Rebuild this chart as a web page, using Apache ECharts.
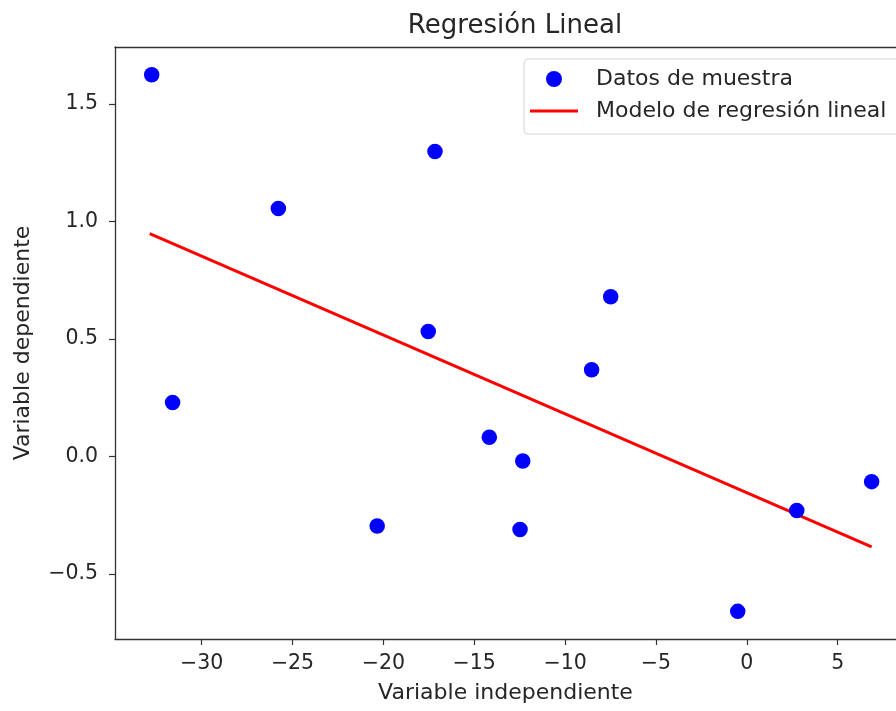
<!DOCTYPE html>
<html>
<head>
<meta charset="utf-8">
<script src="https://cdn.jsdelivr.net/npm/echarts@6/dist/echarts.min.js"></script>
<style>html,body{margin:0;padding:0;background:#fff;}#c{width:896px;height:711px;}</style>
</head>
<body>
<div id="c"></div>
<script>
const sampleX = [-32.75, -31.60, -25.78, -20.34, -17.53, -17.16, -14.17, -12.48, -12.33, -8.54, -7.49, -0.50, 2.75, 6.87];
const sampleY = [1.623, 0.229, 1.054, -0.297, 0.531, 1.297, 0.081, -0.312, -0.020, 0.368, 0.679, -0.660, -0.231, -0.108];
const lineX = [-32.86, 6.87];
const lineY = [0.947, -0.386];
const xTicks = [-30, -25, -20, -15, -10, -5, 0, 5];
const yTicks = [-0.5, 0.0, 0.5, 1.0, 1.5];
const seriesNames = ['Datos de muestra', 'Modelo de regresión lineal'];
const titleText = 'Regresión Lineal';
const xName = 'Variable independiente';
const yName = 'Variable dependiente';

const font = 'DejaVu Sans';
const ink = '#262626';
const spine = '#333';
const chart = echarts.init(document.getElementById('c'));
const minus = v => (v < 0 ? '\u2212' : '');
const xMin = -34.77, xMax = 8.21, yMin = -0.7776, yMax = 1.7415;
chart.setOption({
  animation: false,
  backgroundColor: '#fff',
  textStyle: {fontFamily: font},
  title: {text: titleText, left: 510, top: 8, textAlign: 'center',
    textStyle: {fontFamily: font, fontSize: 26, fontWeight: 'normal', color: ink}},
  grid: {left: 115, top: 47, bottom: 72, right: 0, containLabel: false},
  legend: {
    orient: 'vertical', left: 524, top: 59, padding: [9, 16, 12, 6],
    itemWidth: 48, itemHeight: 16, itemGap: 10,
    backgroundColor: '#fff', borderColor: '#d5d5d5', borderWidth: 1, borderRadius: 4,
    textStyle: {fontFamily: font, fontSize: 22, lineHeight: 22, color: ink, padding: [0, 0, 0, 13]},
    data: [
      {name: seriesNames[0], icon: 'circle'},
      {name: seriesNames[1], icon: 'path://M0,0L48,0L48,3L0,3Z'}
    ]
  },
  xAxis: [{
    type: 'value', min: xMin, max: xMax, position: 'bottom',
    name: xName, nameLocation: 'middle', nameGap: 43,
    nameTextStyle: {fontFamily: font, fontSize: 22, color: ink},
    splitLine: {show: false},
    axisLine: {show: true, onZero: false, lineStyle: {color: spine, width: 1.3}},
    axisTick: {show: true, length: 6, customValues: xTicks, lineStyle: {color: spine, width: 1.2}},
    axisLabel: {customValues: xTicks, fontFamily: font, fontSize: 20.5, color: ink, margin: 14,
      formatter: v => minus(v) + Math.abs(v)}
  }, {
    type: 'value', min: xMin, max: xMax, position: 'top',
    splitLine: {show: false}, axisTick: {show: false}, axisLabel: {show: false},
    axisLine: {show: true, onZero: false, lineStyle: {color: spine, width: 1.3}}
  }],
  yAxis: [{
    type: 'value', min: yMin, max: yMax, position: 'left',
    name: yName, nameLocation: 'middle', nameGap: 81, nameRotate: 90,
    nameTextStyle: {fontFamily: font, fontSize: 22, color: ink},
    splitLine: {show: false},
    axisLine: {show: true, onZero: false, lineStyle: {color: spine, width: 1.3}},
    axisTick: {show: true, length: 6, customValues: yTicks, lineStyle: {color: spine, width: 1.2}},
    axisLabel: {customValues: yTicks, fontFamily: font, fontSize: 20.5, color: ink, margin: 17,
      formatter: v => minus(v) + Math.abs(v).toFixed(1)}
  }],
  series: [{
    name: seriesNames[0], type: 'scatter', symbol: 'circle', symbolSize: 15.5,
    itemStyle: {color: '#0000ff', opacity: 1},
    data: sampleX.map((x, i) => [x, sampleY[i]]), z: 3
  }, {
    name: seriesNames[1], type: 'line', symbol: 'none', showSymbol: false,
    lineStyle: {color: '#ff0000', width: 3}, itemStyle: {color: '#ff0000'},
    data: lineX.map((x, i) => [x, lineY[i]]), z: 2
  }]
});
</script>
</body>
</html>
